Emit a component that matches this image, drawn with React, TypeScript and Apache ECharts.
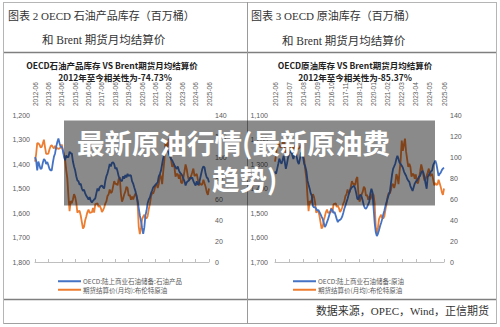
import React, { useEffect, useRef } from "react";
import * as echarts from "echarts";

// ---- categories: monthly, 2012-06 .. 2025-06
const startYear = 2012;
const startMonth = 6;
const endYear = 2025;
const endMonth = 6;
const months: string[] = [];
for (let y = startYear, m = startMonth; y < endYear || (y === endYear && m <= endMonth); ) {
  months.push(`${y}-${m < 10 ? "0" + m : m}`);
  m++;
  if (m > 12) { m = 1; y++; }
}

// ---- series values
const brentMonthly: number[] = [
  95.6, 102.6, 113.2, 112.9, 111.7, 109.1, 109.5,
  112.9, 116.5, 109.2, 102.9, 103.0, 103.3, 107.4, 110.3, 111.2, 109.5, 108.1, 110.7,
  107.4, 108.8, 107.7, 108.1, 109.2, 111.9, 106.9, 101.9, 97.3, 87.3, 79.4, 62.3,
  48.4, 58.1, 55.9, 59.5, 64.6, 62.0, 56.6, 47.0, 48.4, 48.6, 44.3, 38.0,
  31.9, 33.5, 39.8, 43.3, 47.6, 49.9, 46.6, 47.2, 47.2, 51.4, 47.1, 54.9,
  55.5, 55.9, 52.5, 53.8, 51.4, 47.5, 49.2, 51.9, 55.5, 57.7, 62.9, 64.4,
  69.1, 65.7, 66.7, 71.8, 77.0, 74.4, 74.3, 73.1, 78.9, 81.0, 65.0, 57.4,
  60.2, 64.4, 67.0, 71.6, 70.3, 63.0, 64.0, 59.3, 62.3, 59.6, 62.7, 65.2,
  63.7, 55.5, 33.7, 26.6, 32.4, 40.8, 43.2, 45.0, 41.9, 41.5, 43.8, 50.2,
  55.3, 62.3, 65.8, 65.3, 68.3, 73.4, 74.3, 70.5, 74.6, 83.7, 80.8, 74.2,
  86.5, 97.1, 115.6, 105.8, 111.9, 117.5, 105.1, 97.7, 90.6, 93.6, 90.4, 81.3,
  83.9, 83.5, 79.2, 83.4, 75.7, 75.0, 80.1, 86.2, 93.0, 88.7, 82.0, 77.6,
  79.1, 82.0, 85.4, 89.0, 82.0, 82.6, 84.0, 78.6, 72.9, 75.4, 73.4, 73.8,
  78.4, 74.9, 71.5, 66.5, 64.0, 70.0,
];

const oecdProducts: number[] = [
  1372, 1385, 1426, 1390, 1405, 1420, 1418, 1395, 1380, 1385,
  1400, 1392, 1405, 1420, 1426, 1426, 1395, 1370, 1357, 1330,
  1310, 1296, 1315, 1330, 1330, 1345, 1370, 1385, 1365, 1372,
  1372, 1350, 1357, 1357, 1390, 1410, 1426, 1450, 1467, 1470,
  1485, 1480, 1500, 1510, 1505, 1520, 1530, 1537, 1545, 1535,
  1550, 1557, 1550, 1545, 1541, 1520, 1500, 1510, 1495, 1490,
  1488, 1495, 1500, 1470, 1450, 1438, 1420, 1400, 1410, 1395,
  1393, 1400, 1420, 1414, 1430, 1450, 1460, 1467, 1470, 1450,
  1460, 1445, 1455, 1440, 1450, 1445, 1447, 1470, 1480, 1496,
  1510, 1530, 1549, 1580, 1610, 1632, 1660, 1685, 1660, 1610,
  1590, 1560, 1545, 1537, 1520, 1508, 1495, 1490, 1485, 1480,
  1475, 1450, 1440, 1426, 1400, 1375, 1357, 1340, 1330, 1345,
  1357, 1370, 1380, 1385, 1395, 1405, 1414, 1420, 1410, 1426,
  1435, 1440, 1447, 1460, 1470, 1488, 1475, 1470, 1467, 1455,
  1460, 1455, 1470, 1480, 1488, 1470, 1485, 1480, 1460, 1440,
  1420, 1410, 1414, 1440, 1455, 1459, 1475,
];

const oecdCrude: number[] = [
  1330, 1340, 1320, 1300, 1278, 1290, 1299, 1285, 1266, 1290,
  1320, 1300, 1275, 1260, 1250, 1245, 1265, 1280, 1260, 1245,
  1270, 1291, 1300, 1280, 1255, 1250, 1275, 1300, 1311, 1330,
  1368, 1385, 1401, 1420, 1430, 1471, 1478, 1475, 1483, 1490,
  1488, 1496, 1505, 1515, 1524, 1540, 1557, 1550, 1537, 1525,
  1510, 1495, 1483, 1488, 1500, 1496, 1510, 1525, 1537, 1530,
  1528, 1524, 1515, 1500, 1483, 1470, 1455, 1442, 1425, 1410,
  1401, 1395, 1392, 1389, 1400, 1420, 1442, 1445, 1430, 1425,
  1434, 1450, 1470, 1480, 1483, 1475, 1465, 1455, 1420, 1401,
  1415, 1480, 1540, 1578, 1594, 1585, 1570, 1553, 1540, 1524,
  1505, 1490, 1470, 1455, 1440, 1425, 1414, 1380, 1345, 1320,
  1310, 1299, 1280, 1266, 1280, 1295, 1300, 1307, 1315, 1330,
  1340, 1348, 1360, 1368, 1373, 1390, 1400, 1410, 1395, 1380,
  1372, 1368, 1360, 1352, 1348, 1335, 1327, 1335, 1355, 1380,
  1401, 1352, 1345, 1338, 1330, 1327, 1305, 1295, 1286, 1300,
  1325, 1348, 1340, 1335, 1325, 1319, 1315,
];

// ---- names / texts
const nameProducts = "OECD:陆上商业石油储备:石油产品";
const nameCrude = "OECD:陆上商业石油储备:原油";
const nameBrent = "期货结算价(月均):布伦特原油";

const BLUE = "#4472C4";
const ORANGE = "#ED7D31";
const LABEL = "#595959";
const CJK = "'Noto Sans CJK SC', sans-serif";
const HEAD_FONT = "'Liberation Serif', 'Noto Sans CJK SC', serif";

function txt(text: string, x: number, y: number, opts: any = {}) {
  return {
    type: "text",
    z: opts.z ?? 20,
    style: {
      text,
      x,
      y,
      fill: opts.fill ?? "#333",
      fontSize: opts.fontSize ?? 12,
      fontWeight: opts.fontWeight ?? "normal",
      fontFamily: opts.fontFamily ?? CJK,
      textAlign: opts.align ?? "left",
      align: opts.align ?? "left",
      textVerticalAlign: "middle",
      verticalAlign: "middle",
    },
  };
}

function hline(x1: number, x2: number, y: number, color: string, w = 1) {
  return { type: "line", z: 20, shape: { x1, y1: y, x2, y2: y }, style: { stroke: color, lineWidth: w } };
}
function vline(x: number, y1: number, y2: number, color: string, w = 1) {
  return { type: "line", z: 20, shape: { x1: x, y1, x2: x, y2 }, style: { stroke: color, lineWidth: w } };
}

export default function App() {
  const ref = useRef<HTMLDivElement>(null);
  useEffect(() => {
    if (!ref.current) return;
    const chart = echarts.init(ref.current, undefined, { renderer: "svg" });
    const xAxisBase = (grid: number, every: number) => ({
      gridIndex: grid,
      type: "category",
      position: "top",
      data: months,
      boundaryGap: false,
      axisLine: { lineStyle: { color: "#bfbfbf" } },
      axisTick: {
        interval: (i: number) => i % every === 0,
        length: 3,
        lineStyle: { color: "#bfbfbf" },
      },
      axisLabel: {
        interval: 0,
        formatter: (v: string, i: number) => (i % every === 0 ? v : ""),
        rotate: 90,
        fontSize: 6.5,
        color: LABEL,
        margin: 9,
        fontFamily: "'Liberation Sans', sans-serif",
      },
      splitLine: { show: false },
    });
    const yBase = (grid: number, min: number, max: number, interval: number, pos: string, inverse: boolean, margin: number) => ({
      gridIndex: grid,
      type: "value",
      min,
      max,
      interval,
      inverse,
      position: pos,
      axisLine: { show: false },
      axisTick: { show: false },
      splitLine: { show: false },
      axisLabel: {
        fontSize: 7,
        color: LABEL,
        margin,
        fontFamily: "'Liberation Sans', sans-serif",
        formatter: (v: number) => v.toLocaleString("en-US"),
      },
    });
    const line = (name: string, data: number[], color: string, xi: number, yi: number) => ({
      name,
      type: "line",
      data,
      xAxisIndex: xi,
      yAxisIndex: yi,
      showSymbol: false,
      symbol: "none",
      lineStyle: { color, width: 1.8 },
      itemStyle: { color },
      z: 3,
    });
    chart.setOption({
      animation: false,
      backgroundColor: "#fff",
      grid: [
        { left: 35, top: 115, width: 174, height: 147 },
        { left: 275, top: 115, width: 169, height: 147 },
      ],
      xAxis: [xAxisBase(0, 12), xAxisBase(1, 13)],
      yAxis: [
        yBase(0, 1200, 1800, 100, "left", true, 5),
        yBase(0, 0, 140, 20, "right", false, 6),
        yBase(1, 1100, 1700, 100, "left", true, 7),
        yBase(1, 0, 140, 20, "right", false, 6),
      ],
      legend: [
        {
          left: 53, top: 273, orient: "vertical", icon: "rect", itemWidth: 23, itemHeight: 2, itemGap: 2,
          textStyle: { fontSize: 6.5, color: LABEL, fontFamily: CJK, padding: [0, 0, 0, -3] },
          data: [nameProducts, nameBrent],
        },
        {
          left: 288, top: 273, orient: "vertical", icon: "rect", itemWidth: 23, itemHeight: 2, itemGap: 2,
          textStyle: { fontSize: 6.5, color: LABEL, fontFamily: CJK, padding: [0, 0, 0, -3] },
          data: [nameCrude, nameBrent],
        },
      ],
      series: [
        line(nameBrent, brentMonthly, ORANGE, 0, 1),
        line(nameProducts, oecdProducts, BLUE, 0, 0),
        line(nameBrent, brentMonthly, ORANGE, 1, 3),
        line(nameCrude, oecdCrude, BLUE, 1, 2),
      ],
      graphic: [
        // frames
        hline(3, 497, 2.5, "#b5b5b5"),
        hline(3, 497, 52.5, "#7f7f7f", 1.5),
        hline(3, 497, 299.5, "#7f7f7f", 1.5),
        hline(3, 497, 323.5, "#a0a0a0"),
        vline(3.5, 2, 324, "#b5b5b5"),
        vline(247.5, 2, 324, "#9a9a9a"),
        vline(496.5, 2, 324, "#b5b5b5"),
        // headers
        txt("图表 2 OECD 石油产品库存（百万桶）", 8, 16, { fontSize: 11, fontFamily: HEAD_FONT }),
        txt("和 Brent 期货月均结算价", 42, 40, { fontSize: 11.5, fontFamily: HEAD_FONT }),
        txt("图表 3 OECD 原油库存（百万桶）", 251, 16, { fontSize: 11, fontFamily: HEAD_FONT }),
        txt("和 Brent 期货月均结算价", 282, 41, { fontSize: 11.5, fontFamily: HEAD_FONT }),
        // chart titles
        txt("OECD石油产品库存 VS Brent期货月均结算价", 112, 65, { fontSize: 8.5, fontWeight: "bold", align: "center", fill: "#222" }),
        txt("2012年至今相关性为-74.73%", 115, 77, { fontSize: 8.5, fontWeight: "bold", align: "center", fill: "#222" }),
        txt("OECD原油库存 VS Brent期货月均结算价", 355, 65, { fontSize: 8.5, fontWeight: "bold", align: "center", fill: "#222" }),
        txt("2012年至今相关性为-85.37%", 355, 77, { fontSize: 8.5, fontWeight: "bold", align: "center", fill: "#222" }),
        // footer
        txt("数据来源，OPEC，Wind，正信期货", 489, 311, { fontSize: 11, fontFamily: HEAD_FONT, align: "right" }),
        // overlay banner
        {
          type: "rect",
          z: 100,
          shape: { x: 64, y: 120.5, width: 371, height: 85 },
          style: { fill: "rgba(0,0,0,0.46)" },
        },
        txt("最新原油行情(最新原油费", 77, 142, { fontSize: 27.5, fontWeight: "bold", fill: "#fff", z: 101 }),
        txt("趋势)", 212, 178, { fontSize: 27.5, fontWeight: "bold", fill: "#fff", z: 101 }),
      ],
    });
    return () => chart.dispose();
  }, []);
  return (
    <div
      ref={ref}
      style={{ position: "fixed", left: 0, top: 0, width: 500, height: 327, background: "#fff" }}
    />
  );
}
